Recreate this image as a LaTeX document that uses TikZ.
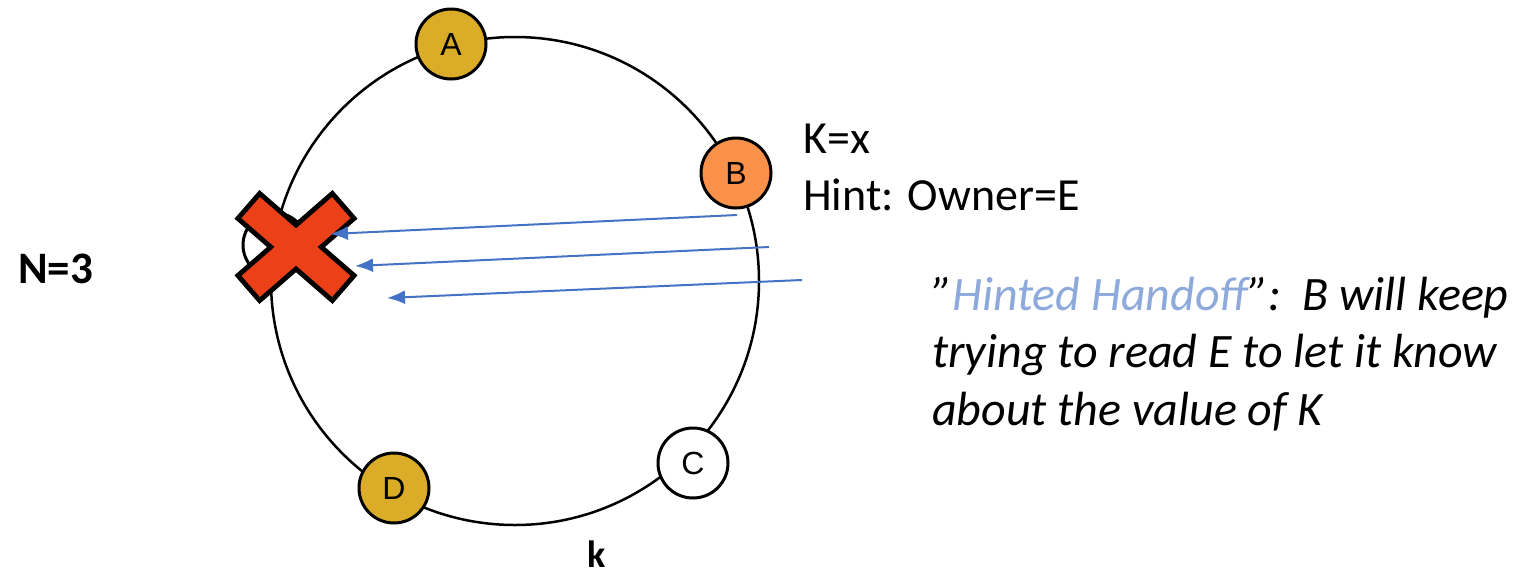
\documentclass[tikz,border=0pt]{standalone}
\usepackage{fontspec}
\setmainfont{Carlito}
\newfontfamily\arialfont{Liberation Sans}
\usetikzlibrary{arrows.meta}
\definecolor{gold}{RGB}{218,172,40}
\definecolor{borange}{RGB}{250,145,75}
\definecolor{ablue}{RGB}{68,114,196}
\definecolor{lblue}{RGB}{142,169,219}
\definecolor{xred}{RGB}{235,64,24}
\tikzset{
  ring/.style={draw=black, line width=2.5pt},
  dnode/.style={circle, draw=black, line width=3pt, minimum size=70pt, inner sep=0pt,
    font=\arialfont\fontsize{32}{32}\selectfont},
  hand/.style={draw=ablue, line width=2pt, -{Latex[length=18pt,width=14pt]}},
  lbl/.style={anchor=base west, inner sep=0pt, font=\fontsize{46}{46}\selectfont},
  itl/.style={anchor=base west, inner sep=0pt, font=\itshape\fontsize{48}{48}\selectfont},
  xarm/.style={line join=miter},
}
\begin{document}
\begin{tikzpicture}[x=1pt,y=-1pt]
\useasboundingbox (0,0) rectangle (1529,579);
\draw[ring] (515,281) circle (244);
\node[dnode, fill=gold] (A) at (451,44) {A};
\node[dnode, fill=borange] (B) at (736,173) {B};
\node[dnode, fill=white] (C) at (693,463) {C};
\node[dnode, fill=gold] (D) at (394,488) {D};
\node[dnode, fill=white, minimum size=64pt] (E) at (275,245) {};
% red cross
\begin{scope}[shift={(296,247)}, rotate=41]
  \draw[xarm, black, line width=10pt] (-60,-14) rectangle (60,14);
\end{scope}
\begin{scope}[shift={(296,247)}, rotate=-41]
  \draw[xarm, black, line width=10pt] (-60,-14) rectangle (60,14);
\end{scope}
\begin{scope}[shift={(296,247)}, rotate=41]
  \fill[xred] (-60,-14) rectangle (60,14);
\end{scope}
\begin{scope}[shift={(296,247)}, rotate=-41]
  \fill[xred] (-60,-14) rectangle (60,14);
\end{scope}
% arrows
\coordinate (s1) at (737,215);
\coordinate (s2) at (769,247);
\coordinate (s3) at (802,280);
\coordinate (t1) at (330,234);
\coordinate (t2) at (355,266);
\coordinate (t3) at (387,298);
\draw[hand] (s1) -- (t1);
\draw[hand] (s2) -- (t2);
\draw[hand] (s3) -- (t3);
% labels
\node[lbl] (kx) at (803,153) {K=x};
\node[lbl] (hint) at (803,210) {Hint: Owner=E};
\node[anchor=base west, inner sep=0pt, font=\bfseries\fontsize{45}{45}\selectfont] (n3) at (18,283) {N=3};
\node[anchor=base, inner sep=0pt, font=\bfseries\fontsize{38}{38}\selectfont] (k) at (597,567) {k};
\node[itl] (l1) at (932,310) {”\textcolor{lblue}{Hinted Handoff}”:\ \ B will keep};
\node[itl] (l2) at (932,367) {trying to read E to let it know};
\node[itl] (l3) at (932,425) {about the value of K};
\end{tikzpicture}
\end{document}
